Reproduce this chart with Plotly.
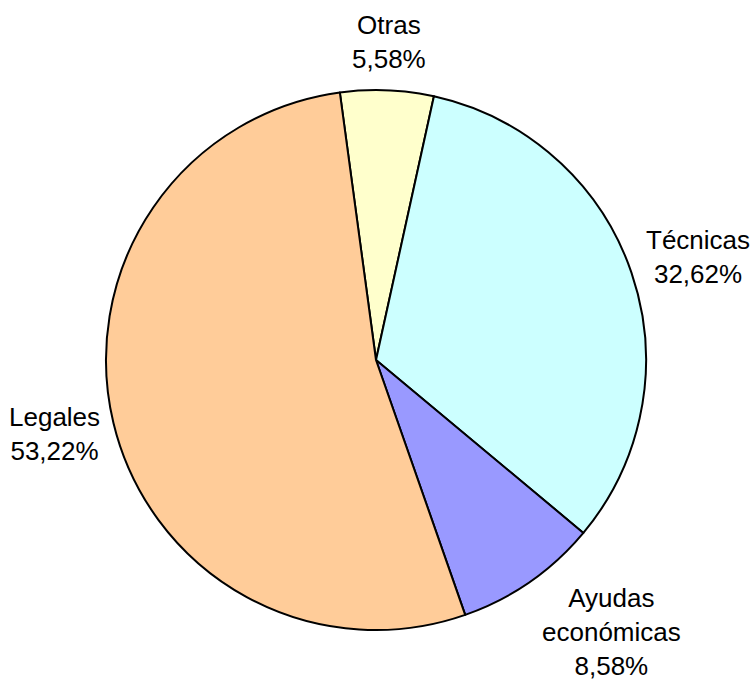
import math
import plotly.graph_objects as go

categories = ["Otras", "Técnicas", "Ayudas<br>económicas", "Legales"]
values = [5.58, 32.62, 8.58, 53.22]
colors = ["#FFFFCC", "#CCFFFF", "#9999FF", "#FFCC99"]

pct_text = [f"{v:.2f}".replace(".", ",") + "%" for v in values]

W, H = 751, 684
# pie geometry in pixels
scx, scy, r = 376, 360, 270
rotation = -7.7
FS = 26
GAP = 14        # distance of the label anchor beyond the rim
CLEAR = 9       # minimum clearance between label box and the pie

# approximate Arial advance widths (em) for label sizing
AW = {"T": .611, "é": .556, "c": .5, "n": .556, "i": .222, "a": .556, "s": .5,
      "O": .778, "t": .278, "r": .333, "A": .667, "y": .5, "u": .556, "d": .556,
      "e": .556, "o": .556, "ó": .556, "m": .833, "L": .556, "g": .556, "l": .222,
      ",": .278, "%": .889, " ": .278}


def text_w(s):
    return sum(AW.get(ch, .556) for ch in s) * FS


def to_paper(sx, sy):
    return sx / W, 1 - sy / H


x0, ytop = to_paper(scx - r, scy - r)
x1, ybot = to_paper(scx + r, scy + r)

fig = go.Figure(go.Pie(
    labels=categories,
    values=values,
    textinfo="none",
    marker=dict(colors=colors, line=dict(color="black", width=2)),
    sort=False,
    direction="clockwise",
    rotation=rotation,
    showlegend=False,
    hoverinfo="label+percent",
    domain=dict(x=[x0, x1], y=[ybot, ytop]),
))

# outside labels placed from the slice mid-angles
total = sum(values)
cum = 0.0
annotations = []
for lab, v, pt in zip(categories, values, pct_text):
    mid = rotation + 360.0 * (cum + v / 2) / total
    cum += v
    th = math.radians(mid)
    ux, uy = math.sin(th), -math.cos(th)
    text = lab + "<br>" + pt
    lines = text.split("<br>")
    hw = max(text_w(s) for s in lines) / 2
    hh = len(lines) * 1.3 * FS / 2
    D = r + GAP
    bx = ux * (D + hw)
    by = uy * (D + hh)
    # push horizontally outwards if the box would come too close to the pie
    near_y = min(max(0.0, by - hh), by + hh) if by > 0 else max(min(0.0, by + hh), by - hh)
    R2 = r + CLEAR
    if abs(near_y) < R2:
        need = math.sqrt(R2 * R2 - near_y * near_y)
        if ux > 0 and bx - hw < need:
            bx = need + hw
        elif ux < 0 and bx + hw > -need:
            bx = -(need + hw)
    # keep the label box inside the chart area
    by = min(by, H - 1 - scy - hh)
    px, py = to_paper(scx + bx, scy + by)
    annotations.append(dict(
        x=px, y=py, xref="paper", yref="paper",
        text=text, showarrow=False, xanchor="center", yanchor="middle",
        align="center",
        font=dict(family="Liberation Sans, Arial, sans-serif", size=FS, color="black"),
    ))

fig.update_layout(
    width=W, height=H,
    margin=dict(l=0, r=0, t=0, b=0),
    paper_bgcolor="white",
    plot_bgcolor="white",
    annotations=annotations,
)

fig.write_html(
    "out.html",
    config={"displayModeBar": False},
    post_script="document.body.style.margin='0';document.body.style.overflow='hidden';",
)
